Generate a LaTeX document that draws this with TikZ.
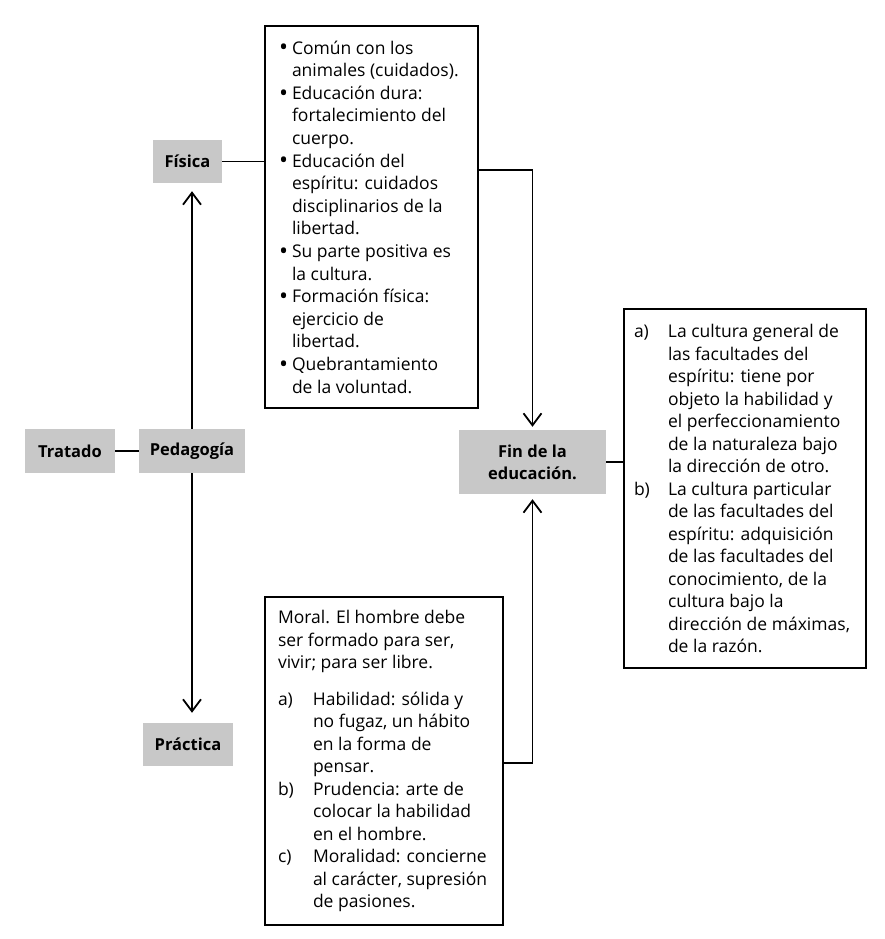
\documentclass[tikz,border=0pt]{standalone}
\usepackage{fontspec}
\setmainfont{Open Sans}
\usetikzlibrary{arrows.meta}
\definecolor{boxgray}{RGB}{200,200,200}
\newcommand{\bul}{\makebox[14pt][l]{\hspace*{1pt}\raisebox{-0.2ex}{\fontsize{24}{0}\selectfont\textbullet}}}
\newcommand{\bitem}[1]{\noindent\hangindent=14pt\hangafter=1\bul#1\par}
\newcommand{\litem}[3]{\noindent\hangindent=#1\hangafter=1\makebox[#1][l]{#2}#3\par}
\newcommand{\txtsetup}{\let\\\newline\parindent=0pt\parskip=0pt\rightskip=0pt plus 1fil}
\begin{document}
\begin{tikzpicture}[x=1pt,y=-1pt,
  graybox/.style={fill=boxgray,inner sep=0pt,align=center,font=\fontsize{16.5}{22}\selectfont\bfseries},
  textbox/.style={draw,line width=1.8pt,inner sep=0pt},
  conn/.style={line width=1.8pt},
  arr/.style={conn,-{Straight Barb[length=12pt,width=18pt,line width=1.8pt]}}]
\useasboundingbox (0,0) rectangle (884,939);
% gray nodes
\node[graybox,minimum width=69pt,minimum height=43pt] (fis) at (187.5,161.5) {Física};
\node[graybox,minimum width=90pt,minimum height=44pt] (tra) at (70,451) {Tratado};
\node[graybox,minimum width=106pt,minimum height=44pt] (ped) at (192,451) {Pedagogía};
\node[graybox,minimum width=90pt,minimum height=43pt] (pra) at (188,744.5) {Práctica};
\node[graybox,minimum width=147pt,minimum height=64pt] (fin) at (532.5,462) {Fin de la\\educación.};
% text boxes
\node[textbox,minimum width=213pt,minimum height=382pt] (top) at (371.5,217) {%
\parbox{195pt}{\fontsize{17.5}{22.6}\selectfont\txtsetup
\bitem{Común con los\\animales (cuidados).}
\bitem{Educación dura:\\fortalecimiento del\\cuerpo.}
\bitem{Educación del\\espíritu: cuidados\\disciplinarios de la\\libertad.}
\bitem{Su parte positiva es\\la cultura.}
\bitem{Formación física:\\ejercicio de\\libertad.}
\bitem{Quebrantamiento\\de la voluntad.}}\hspace*{-8pt}};
\node[textbox,minimum width=242pt,minimum height=359pt] (rig) at (745,488.5) {%
\parbox{228pt}{\fontsize{17.5}{22.5}\selectfont\txtsetup
\litem{34pt}{a)}{La cultura general de\\las facultades del\\espíritu: tiene por\\objeto la habilidad y\\el perfeccionamiento\\de la naturaleza bajo\\la dirección de otro.}
\litem{34pt}{b)}{La cultura particular\\de las facultades del\\espíritu: adquisición\\de las facultades del\\conocimiento, de la\\cultura bajo la\\dirección de máximas,\\de la razón.}}\hspace*{-6pt}};
\node[textbox,minimum width=238pt,minimum height=328pt] (bot) at (384,761) {%
\parbox{222pt}{\fontsize{17.5}{22.5}\selectfont\txtsetup
Moral. El hombre debe\\ser formado para ser,\\vivir; para ser libre.\par
\vspace{14pt}
\litem{35pt}{a)}{Habilidad: sólida y\\no fugaz, un hábito\\en la forma de\\pensar.}
\litem{35pt}{b)}{Prudencia: arte de\\colocar la habilidad\\en el hombre.}
\litem{35pt}{c)}{Moralidad: concierne\\al carácter, supresión\\de pasiones.}}\hspace*{-10pt}};
% coordinates
\coordinate (c1) at (478,170);
\coordinate (c2) at (503,763);
% connectors
\draw[conn] (tra.east) -- (ped.west);
\draw[conn] (fis.east) -- (fis.east -| top.west);
\draw[arr,shorten >=8pt] (ped.north) -- (ped.north |- fis.south);
\draw[arr,shorten >=10pt] (ped.south) -- (ped.south |- pra.north);
\draw[arr,shorten >=3pt] (top.east |- c1) -| (fin.north);
\draw[arr,shorten >=5pt] (bot.east |- c2) -| (fin.south);
\draw[conn] (fin.east) -- (fin.east -| rig.west);
\end{tikzpicture}
\end{document}
